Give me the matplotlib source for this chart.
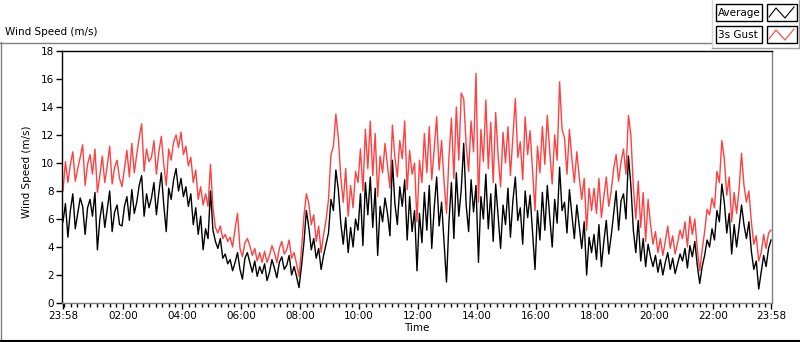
import numpy as np
import matplotlib.pyplot as plt
from matplotlib.patches import Rectangle
from matplotlib.lines import Line2D

plt.rcParams['font.family'] = ['DejaVu Sans']

# one value every 5 minutes, starting 23:58 (one row per hour)
step_min = 5
avg_speed = [
    5.8, 7.1, 4.7, 6.6, 7.8, 5.3, 6.4, 7.5, 6.9, 4.9, 6.8, 7.4,
    6.2, 7.9, 3.8, 6.0, 7.2, 5.4, 6.7, 8.0, 5.1, 6.5, 7.0, 5.6,
    5.5, 6.9, 7.6, 5.9, 8.1, 6.4, 7.2, 8.4, 9.1, 6.2, 7.8, 6.8,
    7.5, 8.6, 6.3, 7.9, 9.3, 7.0, 5.1, 8.2, 7.4, 8.8, 9.6, 8.0,
    8.9, 7.6, 8.3, 6.9, 7.8, 5.6, 6.8, 4.9, 6.2, 3.8, 5.3, 4.6,
    8.0, 5.2, 4.4, 3.9, 4.6, 3.2, 3.5, 2.8, 3.1, 2.3, 2.9, 3.6,
    2.4, 1.7, 3.2, 3.6, 2.9, 2.2, 3.0, 1.9, 2.6, 2.1, 2.8, 1.6,
    2.2, 3.1, 2.5, 1.8, 2.9, 3.3, 2.4, 2.7, 3.4, 2.0, 2.6, 1.9,
    1.1, 2.6, 4.3, 6.6, 5.4, 3.8, 4.6, 3.2, 3.9, 2.4, 3.4, 4.2,
    5.0, 7.4, 6.6, 9.5, 8.1, 5.7, 4.2, 6.1, 3.6, 5.4, 4.0, 6.0,
    5.2, 7.8, 4.1, 8.6, 6.3, 9.0, 5.4, 8.2, 3.4, 6.9, 5.8, 7.5,
    6.4, 4.8, 10.2, 7.1, 5.6, 8.3, 6.9, 8.8, 4.5, 7.6, 5.1, 6.6,
    2.3, 6.4, 4.3, 7.9, 5.2, 8.4, 3.9, 6.8, 9.0, 5.5, 7.2, 4.4,
    1.5, 5.8, 8.6, 4.6, 9.3, 6.2, 8.1, 11.4, 7.0, 5.1, 8.8, 6.5,
    8.4, 2.9, 7.6, 6.0, 9.2, 5.3, 7.8, 4.4, 8.5, 6.2, 3.9, 7.0,
    5.6, 8.2, 4.7, 7.3, 9.0, 5.9, 6.8, 4.2, 8.0, 6.1, 7.7, 5.0,
    2.4, 6.6, 4.5, 7.9, 5.2, 8.4, 6.1, 4.0, 7.4, 5.7, 9.7, 6.6,
    7.2, 5.0, 8.1, 6.3, 4.6, 7.0, 5.5, 3.9, 5.8, 2.0, 4.7, 3.6,
    4.9, 3.1, 5.6, 2.6, 4.4, 5.9, 3.5, 4.8, 6.4, 8.0, 5.2, 7.3,
    7.8, 6.0, 10.5, 8.4, 5.2, 3.6, 5.9, 3.0, 4.6, 2.6, 4.2, 3.3,
    2.6, 3.4, 2.2, 3.1, 2.0, 2.9, 3.6, 2.4, 3.2, 2.1, 2.8, 3.5,
    3.0, 3.9, 2.5, 4.1, 3.3, 4.4, 2.7, 1.4, 2.6, 3.4, 4.5, 4.0,
    5.3, 4.5, 6.6, 5.8, 8.5, 7.2, 5.0, 6.4, 3.5, 5.6, 4.0, 5.4,
    7.0, 5.6, 4.6, 5.8, 3.7, 2.4, 3.0, 1.0, 2.2, 3.4, 2.6, 3.9,
    4.5,
]
gust_speed = [
    8.0, 10.1, 8.6, 9.9, 10.8, 8.7, 9.6, 10.4, 11.3, 8.4, 9.9, 10.6,
    9.2, 11.0, 7.9, 9.1, 10.5, 8.6, 9.8, 11.2, 8.5, 9.7, 10.2, 8.9,
    8.3, 9.6, 10.9, 9.0, 11.4, 9.3, 10.6, 11.8, 12.8, 9.4, 11.0, 10.1,
    10.4, 11.6, 9.2, 10.8, 11.9, 9.9, 8.4, 11.0, 10.2, 11.5, 12.0, 11.1,
    12.2, 10.6, 11.2, 9.8, 10.4, 8.6, 9.5, 7.4, 8.3, 7.0, 7.8, 6.9,
    9.9, 6.8, 5.4, 5.0, 5.5, 4.6, 4.9, 4.4, 4.7, 4.0, 5.3, 6.4,
    3.9, 3.3, 4.3, 4.6, 4.1, 3.4, 3.9, 3.0, 3.6, 2.9, 3.7, 2.9,
    3.4, 4.1, 3.6, 2.9, 3.9, 4.4, 3.5, 3.8, 4.5, 3.2, 3.6, 2.8,
    1.9, 3.8, 6.2, 7.8, 7.1, 5.6, 6.3, 4.4, 5.5, 3.6, 4.9, 5.9,
    7.4, 10.6, 11.2, 13.5, 11.8, 9.0, 7.2, 9.6, 6.2, 8.4, 6.8, 9.4,
    8.6, 11.0, 8.0, 12.4, 9.6, 13.0, 9.1, 12.1, 7.6, 10.5, 9.3, 11.4,
    9.8, 8.2, 12.7, 10.4, 9.0, 11.6, 10.3, 13.0, 8.1, 10.9, 9.2, 10.0,
    5.8, 10.2, 8.6, 12.1, 9.3, 12.6, 8.8, 11.0, 13.3, 9.5, 11.6, 8.7,
    6.4, 10.4, 13.2, 8.9, 14.0, 10.2, 15.0, 14.6, 11.3, 9.4, 13.0, 10.8,
    16.4, 7.2, 12.4, 10.1, 14.5, 9.6, 12.9, 8.6, 13.6, 10.5, 8.3, 12.2,
    10.0, 12.6, 9.1, 11.8, 14.6, 10.4, 11.5, 8.8, 13.3, 10.6, 12.3, 9.5,
    6.6, 11.2, 9.3, 12.6, 9.9, 13.4, 10.8, 8.5, 12.0, 10.2, 15.8, 12.4,
    11.8, 9.2, 12.4, 10.3, 8.6, 10.8, 9.0, 7.4, 8.9, 5.2, 8.2, 6.6,
    8.2, 6.4, 8.9, 6.1, 7.6, 9.0, 6.9, 8.0, 9.6, 10.6, 8.7, 10.1,
    11.0, 9.2, 13.4, 12.0, 8.3, 6.0, 8.7, 5.4, 7.9, 4.4, 7.4, 5.6,
    4.2, 5.1, 3.6, 4.6, 3.4, 4.4, 5.5, 3.9, 4.8, 3.5, 4.3, 5.2,
    4.6, 5.8, 4.0, 6.2, 4.9, 6.0, 3.9, 2.3, 3.8, 5.1, 6.7, 6.3,
    7.5, 6.8, 9.4, 8.6, 11.6, 10.3, 7.7, 9.0, 5.8, 7.9, 6.4, 8.1,
    10.7, 8.4, 7.2, 8.0, 5.8, 4.2, 4.8, 3.0, 3.6, 4.9, 3.9, 5.0,
    5.2,
]
tick_labels = ["23:58", "02:00", "04:00", "06:00", "08:00", "10:00", "12:00",
               "14:00", "16:00", "18:00", "20:00", "22:00", "23:58"]
series_names = ["Average", "3s Gust"]
series_colors = ["#000000", "#ff4040"]

W, H = 800, 342
minutes = np.arange(len(avg_speed)) * step_min
start = 23 * 60 + 58
tick_pos = [((int(s[:2]) * 60 + int(s[3:])) - start) % 1440 for s in tick_labels]
tick_pos[-1] = 1440

fig = plt.figure(figsize=(W / 100, H / 100), dpi=100)
ax = fig.add_axes([62 / W, 1 - 303 / H, 710 / W, 252 / H])

ax.plot(minutes, gust_speed, color=series_colors[1], lw=1.0)
ax.plot(minutes, avg_speed, color=series_colors[0], lw=1.0)

ax.set_xlim(-2, 1442)
ax.set_ylim(0, 18)
ax.set_yticks(range(0, 19, 2))
ax.set_xticks(tick_pos)
ax.set_xticklabels(tick_labels)
ax.set_xticks(np.arange(2, 1441, 120 / 9), minor=True)
ax.tick_params(axis='y', length=4, width=1, pad=2, labelsize=7.5)
ax.tick_params(axis='x', which='major', length=4, width=1, pad=2, labelsize=7.5)
ax.tick_params(axis='x', which='minor', length=3, width=1)

for side, col in [('left', 'black'), ('top', 'black'),
                  ('right', '#808080'), ('bottom', '#808080')]:
    ax.spines[side].set_color(col)
    ax.spines[side].set_linewidth(1)

ax.set_xlabel("Time", fontsize=7.5, labelpad=1)
ax.set_ylabel("Wind Speed (m/s)", fontsize=7.5)
ax.yaxis.set_label_coords((32 - 62) / 710, 0.52)


def px(x, y):
    return x / W, 1 - y / H


def fline(xs, ys, color, lw=1.0):
    fx = [x / W for x in xs]
    fy = [1 - y / H for y in ys]
    fig.add_artist(Line2D(fx, fy, color=color, lw=lw, transform=fig.transFigure))


# outer panel frame
fline([0.5, 0.5], [42, 341], '#808080')
fline([0, 712], [42.5, 42.5], '#808080')
fline([0, 800], [341, 341], 'black', 1.5)
fig.text(5 / W, 1 - 32 / H, "Wind Speed (m/s)", fontsize=7.5, va='center', ha='left')

# legend panel
fline([712, 712], [0, 48], '#d4d4d4')
fline([712, 799], [48, 48], '#a0a0a0')
fline([798.5, 798.5], [0, 48], '#a0a0a0')
for i, (name, col) in enumerate(zip(series_names, series_colors)):
    y0 = 4 + 22 * i
    fig.add_artist(Rectangle(px(716, y0 + 17), 46 / W, 17 / H, facecolor='white',
                             edgecolor='black', lw=1, transform=fig.transFigure))
    fig.add_artist(Rectangle(px(767, y0 + 17), 30 / W, 17 / H, facecolor='white',
                             edgecolor='black', lw=1, transform=fig.transFigure))
    fig.text(718 / W, 1 - (y0 + 9) / H, name, fontsize=7.5, va='center', ha='left')
    fline([769, 776, 785, 794], [y0 + 13, y0 + 4, y0 + 14, y0 + 3], col, 0.8)

fig.savefig("out.png", dpi=100, facecolor='white')
